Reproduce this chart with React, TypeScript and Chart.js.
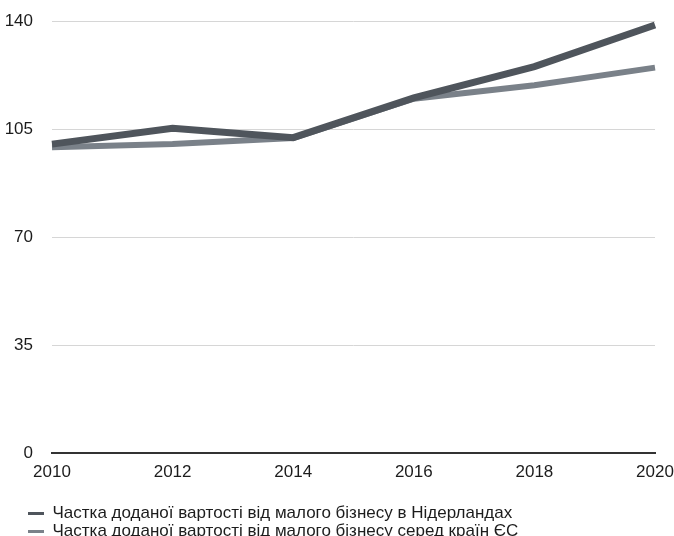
import React, { useEffect, useRef } from "react";
import { Chart, registerables } from "chart.js";

Chart.register(...registerables);

const years = ["2010", "2012", "2014", "2016", "2018", "2020"];
const netherlands = [100.1, 105.2, 102.2, 115.1, 125.2, 138.7];
const euCountries = [99.1, 100.1, 102.1, 114.8, 119.2, 124.9];
const seriesLabels = [
  "Частка доданої вартості від малого бізнесу в Нідерландах",
  "Частка доданої вартості від малого бізнесу серед країн ЄС",
];
const yTicks = [0, 35, 70, 105, 140];

const darkColor = "#4f555c";
const lightColor = "#7a8189";
const textColor = "#1c1c1c";
const fontFamily = "'Liberation Sans', Arial, Helvetica, sans-serif";

const legendShift = {
  id: "legendShift",
  afterLayout(chart: any) {
    if (chart.legend) {
      chart.legend.left = 27;
    }
  },
};

export default function App() {
  const canvasRef = useRef<HTMLCanvasElement | null>(null);

  useEffect(() => {
    document.body.style.margin = "0";
    document.body.style.overflow = "hidden";
    const canvas = canvasRef.current;
    if (!canvas) return;
    const chart = new Chart(canvas, {
      type: "line",
      data: {
        labels: years,
        datasets: [
          {
            label: seriesLabels[0],
            data: netherlands,
            borderColor: darkColor,
            backgroundColor: darkColor,
            borderWidth: 7,
            pointRadius: 0,
            tension: 0,
          },
          {
            label: seriesLabels[1],
            data: euCountries,
            borderColor: lightColor,
            backgroundColor: lightColor,
            borderWidth: 6,
            pointRadius: 0,
            tension: 0,
          },
        ],
      },
      plugins: [legendShift],
      options: {
        responsive: false,
        animation: false,
        layout: { autoPadding: false, padding: { top: 21, left: 5, right: 0, bottom: 0 } },
        plugins: {
          tooltip: { enabled: false },
          legend: {
            position: "bottom",
            align: "start",
            labels: {
              boxWidth: 16,
              boxHeight: 3,
              padding: 1,
              color: textColor,
              font: { family: fontFamily, size: 17 },
              generateLabels: (ch: any) =>
                ch.data.datasets.map((ds: any, i: number) => ({
                  text: ds.label,
                  fillStyle: ds.borderColor,
                  strokeStyle: "rgba(0,0,0,0)",
                  lineWidth: 0,
                  hidden: false,
                  datasetIndex: i,
                  fontColor: textColor,
                })),
            },
          },
        },
        scales: {
          x: {
            type: "category",
            offset: false,
            grid: { display: false, drawTicks: false },
            border: { display: true, color: "#333", width: 2 },
            ticks: {
              color: textColor,
              padding: 9,
              maxRotation: 0,
              autoSkip: false,
              font: { family: fontFamily, size: 17 },
            },
            afterFit: (axis: any) => {
              axis.height = 51;
              axis.paddingRight = 19;
            },
          },
          y: {
            min: 0,
            max: 140,
            afterBuildTicks: (axis: any) => {
              axis.ticks = yTicks.map((v) => ({ value: v }));
            },
            grid: { color: "#d6d6d6", lineWidth: 1, drawTicks: false },
            border: { display: false },
            ticks: {
              color: textColor,
              padding: 19,
              font: { family: fontFamily, size: 17 },
            },
            afterFit: (axis: any) => {
              axis.width = 47;
              axis.paddingTop = 0;
              axis.paddingBottom = 0;
            },
          },
        },
      },
    });
    return () => chart.destroy();
  }, []);

  return (
    <div style={{ position: "fixed", left: 0, top: 0, width: 674, height: 536, overflow: "hidden" }}>
      <canvas ref={canvasRef} width={674} height={550} style={{ width: 674, height: 550, display: "block" }} />
    </div>
  );
}
